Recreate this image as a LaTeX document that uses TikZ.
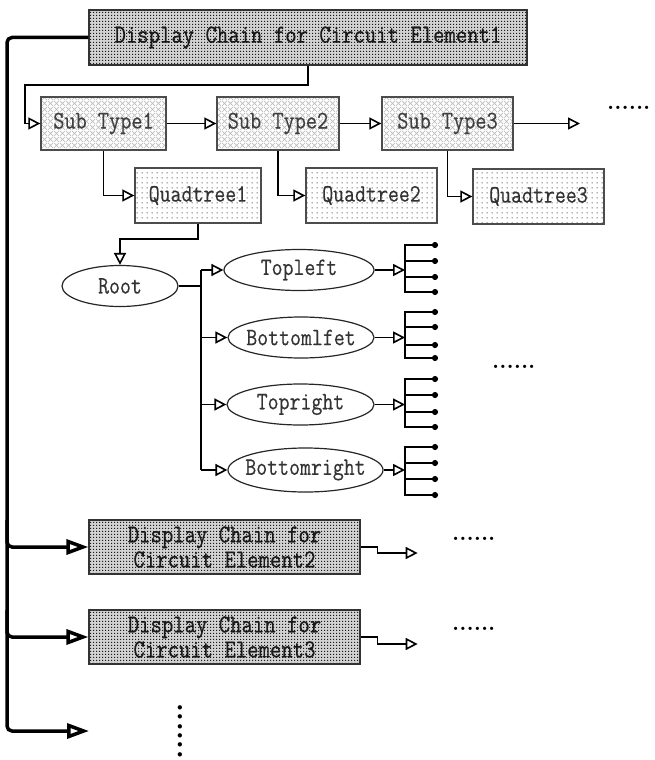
\documentclass[tikz,border=0pt]{standalone}
\usepackage{fontspec}
\setmonofont{Latin Modern Mono}[FakeStretch=0.85, FakeBold=0.4]
\usetikzlibrary{arrows.meta,patterns.meta,shapes.geometric,calc}

\tikzdeclarepattern{name=dcdots, type=uncolored,
  bottom left={(0pt,0pt)}, top right={(3pt,3pt)}, tile size={(3pt,3pt)},
  code={\pgfpathrectangle{\pgfpointorigin}{\pgfpoint{1.5pt}{1.5pt}}\pgfusepath{fill}}}
\tikzdeclarepattern{name=xhatch, type=uncolored,
  bottom left={(0pt,0pt)}, top right={(6pt,6pt)}, tile size={(6pt,6pt)},
  code={\pgfsetlinewidth{0.8pt}%
    \pgfpathmoveto{\pgfpointorigin}\pgfpathlineto{\pgfpoint{6pt}{6pt}}%
    \pgfpathmoveto{\pgfpoint{0pt}{6pt}}\pgfpathlineto{\pgfpoint{6pt}{0pt}}%
    \pgfusepath{stroke}}}
\tikzdeclarepattern{name=qdots, type=uncolored,
  bottom left={(0pt,0pt)}, top right={(5pt,5pt)}, tile size={(5pt,5pt)},
  code={\pgfpathcircle{\pgfpoint{2.5pt}{2.5pt}}{0.65pt}\pgfusepath{fill}}}

\tikzset{
  dcbox/.style={rectangle, draw=black!80, line width=1.3pt, preaction={fill=gray!35},
    pattern=dcdots, pattern color=black!90, inner sep=0pt, align=center,
    font=\fontsize{26}{25}\selectfont\ttfamily, text=black!90},
  stbox/.style={rectangle, draw=black!70, line width=1.3pt, preaction={fill=white},
    pattern=xhatch, pattern color=gray!50, inner sep=0pt, minimum height=53pt,
    font=\fontsize{25.5}{24}\selectfont\ttfamily, text=black!75},
  qbox/.style={rectangle, draw=black!70, line width=1.3pt, preaction={fill=white},
    pattern=qdots, pattern color=black!85, inner sep=0pt, minimum height=55pt,
    font=\fontsize{25}{24}\selectfont\ttfamily, text=black!80},
  ell/.style={ellipse, draw=black!85, line width=1.2pt, inner sep=0pt, minimum height=41pt,
    font=\fontsize{25}{24}\selectfont\ttfamily, text=black!80},
  con/.style={line width=1.6pt, -{Triangle[open, length=12pt, width=12pt]}},
  plain/.style={line width=1.6pt},
  bus/.style={line width=3.5pt, rounded corners=5pt},
  busarr/.style={bus, -{Triangle[open, length=22pt, width=15pt]}},
  leaf/.style={line width=1.6pt, -{Circle[length=6pt]}},
  leafend/.style={line width=1.6pt, {Circle[length=6pt]}-{Circle[length=6pt]}},
  more/.style={inner sep=0pt, font=\fontsize{23}{23}\selectfont\bfseries}
}

\begin{document}
\begin{tikzpicture}[x=1pt, y=-1pt]
\useasboundingbox (0,0) rectangle (655,760);

% main nodes
\node[dcbox, minimum width=438pt, minimum height=55pt] (dc1) at (308,37.5) {Display Chain for Circuit Element1};
\node[stbox, minimum width=125pt] (st1) at (103.5,123.5) {Sub Type1};
\node[stbox, minimum width=122pt] (st2) at (278,123.5) {Sub Type2};
\node[stbox, minimum width=131pt] (st3) at (447.5,123.5) {Sub Type3};
\node[qbox, minimum width=126pt] (q1) at (198,195.5) {Quadtree1};
\node[qbox, minimum width=131pt] (q2) at (371.5,195.5) {Quadtree2};
\node[qbox, minimum width=131pt] (q3) at (538.5,196.5) {Quadtree3};

\node[ell, minimum width=116pt] (root) at (120,286) {\makebox[0pt]{Root}};
\node[ell, minimum width=150pt] (tl) at (299,270) {\makebox[0pt]{Topleft}};
\node[ell, minimum width=146pt] (bl) at (301,337.5) {\makebox[0pt]{Bottomlfet}};
\node[ell, minimum width=147pt] (tr) at (300.5,404.5) {\makebox[0pt]{Topright}};
\node[ell, minimum width=155pt, minimum height=44pt] (br) at (305.5,470) {\makebox[0pt]{Bottomright}};

\node[dcbox, minimum width=271pt, minimum height=54pt] (dc2) at (224.5,547) {Display Chain for\\Circuit Element2};
\node[dcbox, minimum width=271pt, minimum height=54pt] (dc3) at (224.5,637) {Display Chain for\\Circuit Element3};

% coordinates
\coordinate (c1) at (25,85);
\coordinate (st3out) at (580,123.5);
\coordinate (qr) at (120,239);
\coordinate (jr) at (201,286);
\coordinate (vx) at (405,0);
\coordinate (e4) at (89,731);

% chain connectors
\draw[con] (dc1.south) |- (c1) |- (st1.west);
\draw[con] (st1.east) -- (st2.west);
\draw[con] (st2.east) -- (st3.west);
\draw[con] (st3.east) -- (st3out);
\draw[con] (st1.south) |- (q1.west);
\draw[con] (st2.south) |- (q2.west);
\draw[con] (st3.south) |- (q3.west);
\draw[con] (q1.south) |- (qr) -- (root.north);

% quadtree
\draw[plain] (root.east) -- (jr);
\draw[plain] (jr |- tl.west) -- (jr |- br.west);
\draw[con] (jr |- tl.west) -- (tl.west);
\draw[con] (jr |- bl.west) -- (bl.west);
\draw[con] (jr |- tr.west) -- (tr.west);
\draw[con] (jr |- br.west) -- (br.west);

\draw[con] (tl.east) -- (tl.east -| vx);
\draw[con] (bl.east) -- (bl.east -| vx);
\draw[con] (tr.east) -- (tr.east -| vx);
\draw[con] (br.east) -- (br.east -| vx);

% leaves
\foreach \a/\b/\c/\d in {245/261/277/292, 312/327/345/358, 379/395/412/427, 447/463/479/495}{
  \draw[leafend] (438,\a) -- (405,\a) -- (405,\d) -- (438,\d);
  \draw[leaf] (405,\b) -- (438,\b);
  \draw[leaf] (405,\c) -- (438,\c);
}

% outputs of chains 2,3
\draw[con] (dc2.east) -- ++(17,0) |- ++(40,6);
\draw[con] (dc3.east) -- ++(17,0) |- ++(40,7);

% bus
\draw[busarr] (dc1.west) -| (7,731) -- (e4);
\draw[busarr] (7,520) |- (dc2.west);
\draw[busarr] (7,610) |- (dc3.west);

% ellipses
\node[more, anchor=west] (m1) at (607,108) {......};
\node[more, anchor=west] (m2) at (492,367) {......};
\node[more, anchor=west] (m3) at (452,539) {......};
\node[more, anchor=west] (m4) at (452,629) {......};
\node[inner sep=0pt, font=\fontsize{30}{30}\selectfont\bfseries, rotate=90] (m5) at (180,731) {......};
\end{tikzpicture}
\end{document}
